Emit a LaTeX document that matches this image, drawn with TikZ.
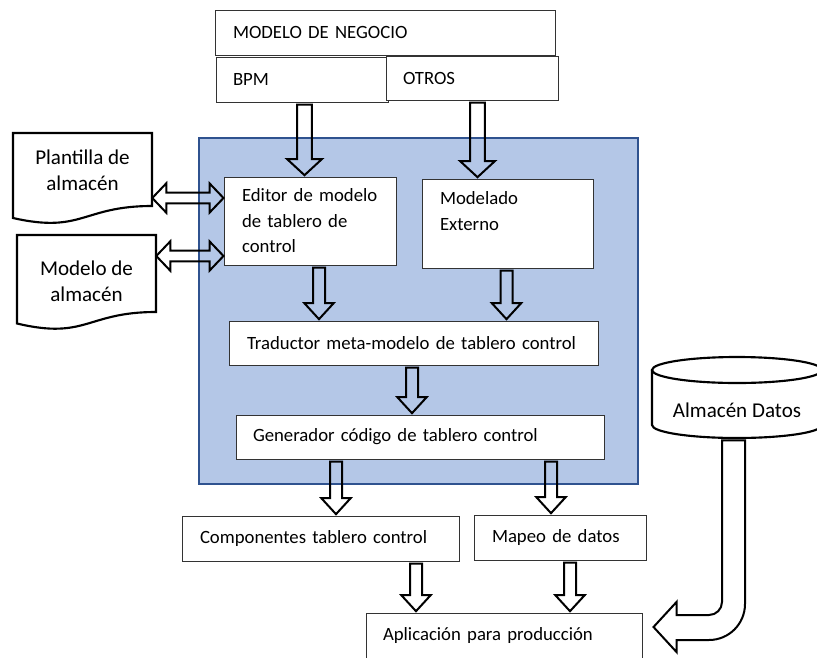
\documentclass[tikz,border=0pt]{standalone}
\usepackage{fontspec}
\setmainfont{Carlito}
\usepackage{tikz}
\usetikzlibrary{calc}

\definecolor{panelblue}{HTML}{B4C7E7}
\definecolor{paneledge}{HTML}{2F528F}

\tikzset{
  box/.style={draw=black!80, line width=0.75pt, fill=white, align=left, inner ysep=0pt, font=\fontsize{14.05}{19.1}\selectfont},
  doc/.style={align=center, inner sep=0pt, font=\fontsize{15.8}{19.5}\selectfont},
  docline/.style={draw=black, line width=1.6pt, fill=white},
  blockarrow/.style={draw=black, line width=1.5pt, line join=miter},
  panel/.style={draw=paneledge, line width=1.5pt, fill=panelblue, inner sep=0pt}
}

% hollow arrow pointing down: x, from, to, shaft half width, head half width
\newcommand{\blockdown}[5]{%
  \draw[blockarrow] let \p1=(#2 -| #1,0), \p2=(#3 -| #1,0) in
    (\x1-#4,\y1-1.5pt) -- (\x1-#4,\y2+13pt) -- (\x1-#5,\y2+13pt) -- (\x1,\y2+1pt)
    -- (\x1+#5,\y2+13pt) -- (\x1+#4,\y2+13pt) -- (\x1+#4,\y1-1.5pt) -- cycle;}
% hollow arrow with two heads: y, left node, right node
\newcommand{\blockboth}[3]{%
  \draw[blockarrow] let \p1=(#2.east |- 0,#1), \p2=(#3.west |- 0,#1) in
    (\x1,\y1) -- (\x1+10.5pt,\y1+11pt) -- (\x1+10.5pt,\y1+4pt) -- (\x2-10.5pt,\y1+4pt)
    -- (\x2-10.5pt,\y1+11pt) -- (\x2,\y1) -- (\x2-10.5pt,\y1-11pt) -- (\x2-10.5pt,\y1-4pt)
    -- (\x1+10.5pt,\y1-4pt) -- (\x1+10.5pt,\y1-11pt) -- cycle;}

\begin{document}
\begin{tikzpicture}[x=0.75pt,y=-0.75pt]
\useasboundingbox (0,0) rectangle (817,657);

\node[panel, minimum width=329.25pt, minimum height=259.5pt] (panel) at (418.5,311) {};

% top boxes
\node[box, text width=228pt, inner xsep=13.5pt, minimum height=33.75pt] (negocio) at (385,32.5) {MODELO DE NEGOCIO};
\node[box, text width=103.5pt, inner xsep=12.75pt, minimum height=33.75pt] (bpm) at (302,79.5) {BPM};
\node[box, text width=103.5pt, inner xsep=12.75pt, minimum height=33pt] (otros) at (472,78) {OTROS};

% inside the panel
\node[box, text width=102pt, inner xsep=13.5pt, minimum height=66pt] (editor) at (310,221) {\mbox{Editor de modelo}\\de tablero de\\control};
\node[box, text width=101.25pt, inner xsep=13.5pt, minimum height=66.75pt] (externo) at (507.5,223.5) {Modelado\\Externo\\\mbox{}};
\node[box, text width=249.75pt, inner xsep=13.5pt, minimum height=33pt] (traductor) at (413.5,343) {\mbox{Traductor meta-modelo de tablero control}};
\node[box, text width=250.5pt, inner xsep=12.75pt, minimum height=33pt] (generador) at (420,437) {\mbox{Generador código de tablero control}};

% bottom boxes
\node[box, text width=180.75pt, inner xsep=13.5pt, minimum height=33.75pt] (componentes) at (320.5,538.5) {\mbox{Componentes tablero control}};
\node[box, text width=102pt, inner xsep=13.5pt, minimum height=33.75pt] (mapeo) at (560,537.5) {Mapeo de datos};
\node[box, text width=181.5pt, inner xsep=12.75pt, minimum height=50.6pt] (app) at (504,646.75) {\mbox{Aplicación para producción}\\\mbox{}};

% documents on the left
\draw[docline] (13,133) -- (152,133) -- (152,206) .. controls (82.5,206) and (82.5,233.8) .. (13,218) -- cycle;
\node[doc, minimum width=104.25pt] (plantilla) at (82.5,170) {Plantilla de\\almacén};
\draw[docline] (17,235) -- (156,235) -- (156,312) .. controls (86.5,312) and (86.5,340) .. (17,323.5) -- cycle;
\node[doc, minimum width=104.25pt] (modelo) at (86.5,281) {Modelo de\\almacén};

% data store
\draw[docline] (652,370) -- (652,425) .. controls (652,432.2) and (690.1,438) .. (737,438)
  .. controls (783.9,438) and (822,432.2) .. (822,425) -- (822,370);
\draw[docline] (737,370) ellipse [x radius=63.75pt, y radius=9.75pt];
\node[doc, minimum width=127.5pt, minimum height=42pt] (datos) at (737,410) {Almacén Datos};

% arrows
\blockdown{304.5}{bpm.south}{editor.north}{5.5pt}{13pt}
\blockdown{477.5}{otros.south}{externo.north}{5.5pt}{13pt}
\blockboth{198}{plantilla}{editor}
\blockboth{256}{modelo}{editor}
\blockdown{319}{editor.south}{traductor.north}{4.5pt}{11pt}
\blockdown{506.5}{externo.south}{traductor.north}{4.5pt}{11pt}
\blockdown{412}{traductor.south}{generador.north}{4.5pt}{11pt}
\blockdown{336}{generador.south}{componentes.north}{4.5pt}{11pt}
\blockdown{551}{generador.south}{mapeo.north}{4.5pt}{11pt}
\blockdown{416}{componentes.south}{app.north}{4.5pt}{11pt}
\blockdown{570}{mapeo.south}{app.north}{4.5pt}{11pt}

\coordinate (bend) at (datos.south |- app.east);
\draw[blockarrow] ($(datos.south)+(8,2)$) -- ($(bend)+(8,-42.75)$)
  .. controls ($(bend)+(8,-22.85)$) and ($(bend)+(-8.1,-6.75)$) .. ($(bend)+(-28,-6.75)$)
  -- ($(app.east)+(34,-6.75)$) -- ($(app.east)+(34,5.25)$) -- ($(app.east)+(11,-19.75)$)
  -- ($(app.east)+(34,-44.75)$) -- ($(app.east)+(34,-31.75)$) -- ($(bend)+(-28,-31.75)$)
  .. controls ($(bend)+(-20.8,-31.75)$) and ($(bend)+(-15,-37.55)$) .. ($(bend)+(-15,-44.75)$)
  -- ($(datos.south)+(-15,2)$) -- cycle;
\end{tikzpicture}
\end{document}
